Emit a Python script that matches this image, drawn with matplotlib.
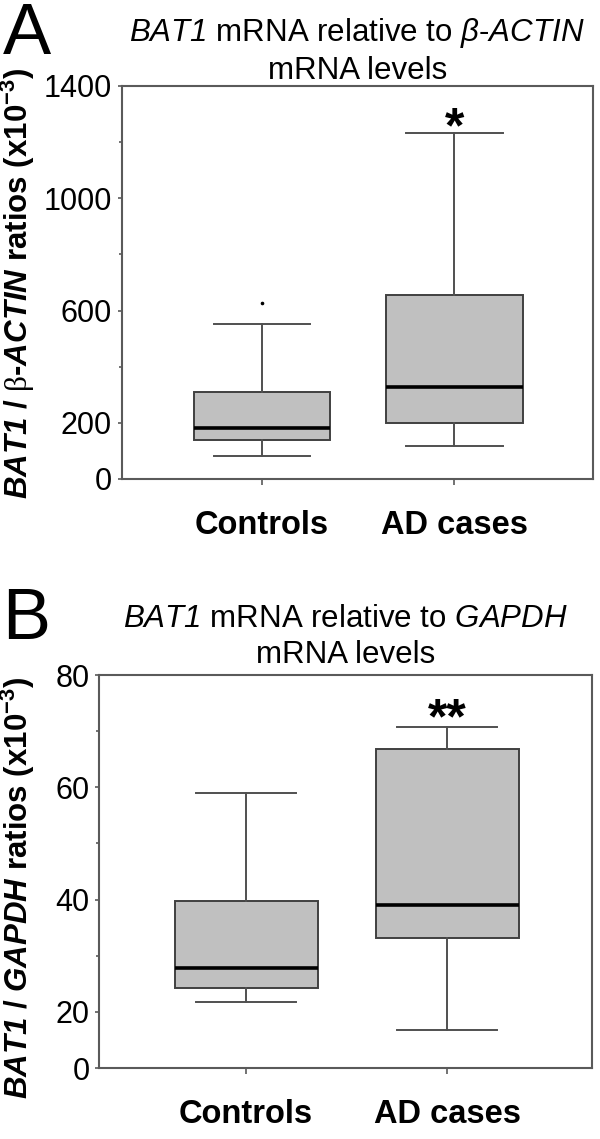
import matplotlib
matplotlib.use("Agg")
import matplotlib.pyplot as plt

# fonts: Arial-like text, italic gene names inside mathtext
plt.rcParams['font.family'] = ['Liberation Sans', 'DejaVu Sans']
plt.rcParams['mathtext.fontset'] = 'custom'
plt.rcParams['mathtext.cal'] = 'Liberation Sans:italic'      # italic (digits stay italic)
plt.rcParams['mathtext.bf'] = 'Liberation Sans:bold:italic'  # bold italic
plt.rcParams['mathtext.rm'] = 'Liberation Serif'             # symbol-like beta
plt.rcParams['mathtext.sf'] = 'Liberation Sans:bold'

groups = ['Controls', 'AD cases']

# Panel A: BAT1 / beta-ACTIN ratios (x10^-3)
actin_whislo = [82, 118]
actin_q1 = [139, 199]
actin_med = [180, 327]
actin_q3 = [311, 657]
actin_whishi = [551, 1234]
actin_fliers = [[627], []]
actin_ticks = [0, 200, 600, 1000, 1400]
actin_minor = [400, 800, 1200]

# Panel B: BAT1 / GAPDH ratios (x10^-3), axis starts at 10 but is labelled 0
gapdh_whislo = [21.8, 16.7]
gapdh_q1 = [24.3, 33.2]
gapdh_med = [27.8, 39.0]
gapdh_q3 = [39.8, 66.9]
gapdh_whishi = [59.0, 70.7]
gapdh_fliers = [[], []]
gapdh_ticks = [10, 20, 40, 60, 80]
gapdh_ticklabels = ['0', '20', '40', '60', '80']
gapdh_minor = [30, 50, 70]

spine_col = '#5a5a5a'


def draw_panel(ax, whislo, q1, med, q3, whishi, fliers, stars, star_off):
    stats = []
    for i in range(len(groups)):
        stats.append(dict(whislo=whislo[i], q1=q1[i], med=med[i], q3=q3[i],
                          whishi=whishi[i], fliers=fliers[i]))
    ax.bxp(stats, positions=[1, 2], widths=0.71, capwidths=0.5,
           patch_artist=True, showfliers=True,
           boxprops=dict(facecolor='#c0c0c0', edgecolor='#404040', linewidth=1.4),
           medianprops=dict(color='black', linewidth=2.6),
           whiskerprops=dict(color='#505050', linewidth=1.4),
           capprops=dict(color='#505050', linewidth=1.4),
           flierprops=dict(marker='o', markersize=1.6, markerfacecolor='black',
                           markeredgecolor='black'))
    ax.set_xlim(0.27, 2.72)
    ax.set_xticks([1, 2])
    ax.set_xticklabels(groups, fontweight='bold', fontsize=23.5)
    ax.tick_params(axis='x', length=4, width=1.2, color=spine_col, pad=18)
    ax.tick_params(axis='y', which='major', length=3, width=1.2, color=spine_col,
                   labelsize=22, pad=4)
    ax.tick_params(axis='y', which='minor', length=2, width=1.2, color=spine_col)
    for s in ax.spines.values():
        s.set_color(spine_col)
        s.set_linewidth(1.5)
    # significance mark above the AD whisker
    ax.annotate(stars, xy=(2, whishi[1]), xytext=(0, star_off), textcoords='offset points',
                ha='center', va='baseline', fontsize=36, fontweight='bold')


fig = plt.figure(figsize=(6, 11.39), dpi=100)

axA = fig.add_axes([0.2028, 0.5795, 0.7855, 0.345])
draw_panel(axA, actin_whislo, actin_q1, actin_med, actin_q3, actin_whishi,
           actin_fliers, '*', -7)
axA.set_ylim(0, 1400)
axA.set_yticks(actin_ticks)
axA.set_yticks(actin_minor, minor=True)
axA.set_title(r'$\mathcal{BAT1}$ mRNA relative to $\mathcal{\beta}$-$\mathcal{ACTIN}$' + '\nmRNA levels',
              fontsize=22.5, pad=4, linespacing=1.25)

axB = fig.add_axes([0.1655, 0.0623, 0.8212, 0.345])
draw_panel(axB, gapdh_whislo, gapdh_q1, gapdh_med, gapdh_q3, gapdh_whishi,
           gapdh_fliers, '**', -4.5)
axB.set_ylim(10, 80)
axB.set_yticks(gapdh_ticks)
axB.set_yticklabels(gapdh_ticklabels)
axB.set_yticks(gapdh_minor, minor=True)
axB.set_title(r'$\mathcal{BAT1}$ mRNA relative to $\mathcal{GAPDH}$' + '\nmRNA levels',
              fontsize=22.5, pad=9, linespacing=1.25)

# rotated y labels
fig.text(0.029, 0.7515,
         r'$\mathbf{BAT1}$ / $\mathrm{\beta}$-$\mathbf{ACTIN}$ ratios (x10$^{\mathsf{-3}}$)',
         rotation=90, ha='center', va='center', fontsize=22.5, fontweight='bold')
fig.text(0.029, 0.2204,
         r'$\mathbf{BAT1}$ / $\mathbf{GAPDH}$ ratios (x10$^{\mathsf{-3}}$)',
         rotation=90, ha='center', va='center', fontsize=22.5, fontweight='bold')

# panel letters
fig.text(0.005, 0.998, 'A', fontsize=52, va='top', ha='left')
fig.text(0.004, 0.485, 'B', fontsize=52, va='top', ha='left')

fig.savefig('out.png', dpi=100)
